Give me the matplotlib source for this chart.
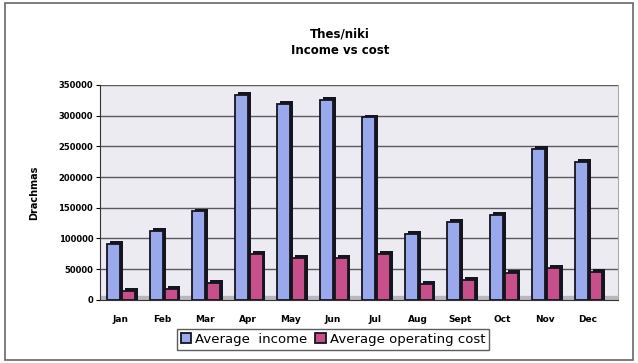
import matplotlib.pyplot as plt
import matplotlib.patches as mpatches
import numpy as np

months = ['Jan', 'Feb', 'Mar', 'Apr', 'May', 'Jun', 'Jul', 'Aug', 'Sept', 'Oct', 'Nov', 'Dec']
income = [91000, 112000, 144000, 334000, 319000, 326000, 297000, 107000, 127000, 138000, 246000, 225000]
cost = [15000, 18000, 28000, 75000, 68000, 68000, 75000, 26000, 33000, 44000, 52000, 45000]

col_income = '#9aa9ec'
col_cost = '#c8508a'
col_dark = '#15151f'

fig = plt.figure(figsize=(6.38, 3.63), dpi=100)
# chart border
fig.patches.append(mpatches.Rectangle((0.008, 0.008), 0.984, 0.984, transform=fig.transFigure,
                                      fill=False, edgecolor='#666666', linewidth=1.2))

ax = fig.add_axes([0.157, 0.174, 0.812, 0.592])
ax.set_facecolor('#ecebf2')

x = np.arange(len(months))
w = 0.3
dx, dy = 0.07, 4500  # fake depth

# gridlines
ticks = np.arange(0, 350001, 50000)
for t in ticks[1:]:
    ax.axhline(t, color='#5a5a5a', linewidth=1.0, zorder=0)
ax.axhspan(0, 6000, color='#b8b8bc', zorder=0.5)

for xs, vals, col in [(x - 0.15, income, col_income), (x + 0.2, cost, col_cost)]:
    # dark side/top for 3D look
    ax.bar(xs + dx, [v + dy for v in vals], width=w, color=col_dark, zorder=2)
    ax.bar(xs, vals, width=w, color=col, edgecolor=col_dark, linewidth=1.3, zorder=3)

ax.set_xlim(-0.47, 11.72)
ax.set_ylim(0, 350000)
ax.set_yticks(ticks)
ax.set_yticklabels([str(t) for t in ticks], fontsize=6, fontweight='bold')
ax.set_xticks(x)
ax.set_xticklabels(months, fontsize=6.5, fontweight='bold')
ax.tick_params(axis='y', length=3, pad=2)
ax.tick_params(axis='x', length=0, pad=11)
ax.spines['top'].set_visible(False)
ax.spines['right'].set_color('#aaaaaa')
ax.spines['left'].set_color('#333333')
ax.spines['bottom'].set_color('#333333')
ax.set_ylabel('Drachmas', fontsize=7, fontweight='bold', labelpad=14)

fig.text(0.533, 0.905, 'Thes/niki', ha='center', va='center', fontsize=8.5, fontweight='bold')
fig.text(0.533, 0.862, 'Income vs cost', ha='center', va='center', fontsize=8.5, fontweight='bold')

handles = [mpatches.Patch(facecolor=col_income, edgecolor=col_dark, linewidth=1.3, label='Average  income'),
           mpatches.Patch(facecolor=col_cost, edgecolor=col_dark, linewidth=1.3, label='Average operating cost')]
leg = fig.legend(handles=handles, loc='center', bbox_to_anchor=(0.522, 0.065), ncol=2,
                 fontsize=9.5, frameon=True, fancybox=False, edgecolor='#333333',
                 handlelength=0.8, handleheight=0.8, handletextpad=0.3, columnspacing=0.6,
                 borderpad=0.3)
leg.get_frame().set_linewidth(1.0)

fig.savefig('out.png', dpi=100)
